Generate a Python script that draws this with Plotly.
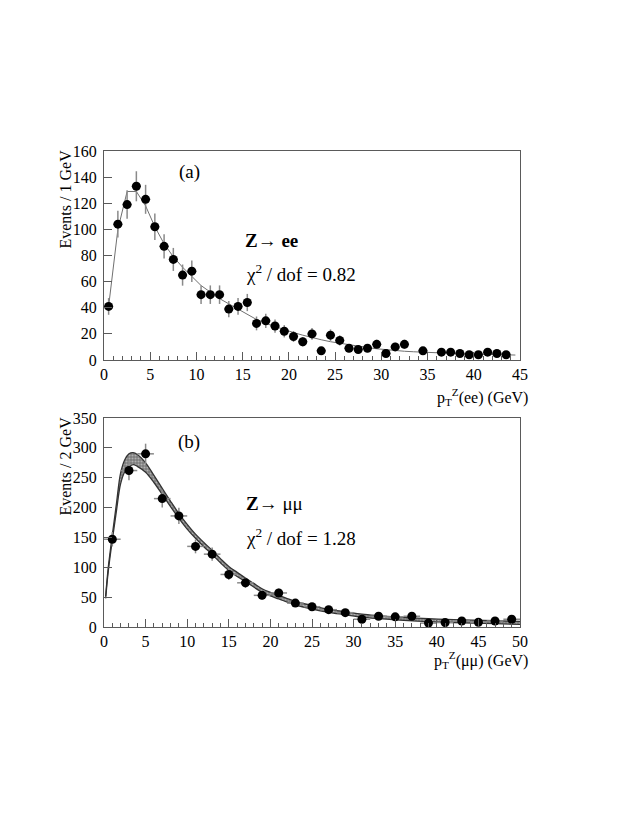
import plotly.graph_objects as go

# ---------------- data: panel (a) Z -> ee ----------------
a_x = [0.5, 1.5, 2.5, 3.5, 4.5, 5.5, 6.5, 7.5, 8.5, 9.5, 10.5, 11.5, 12.5, 13.5, 14.5,
       15.5, 16.5, 17.5, 18.5, 19.5, 20.5, 21.5, 22.5, 23.5, 24.5, 25.5, 26.5, 27.5,
       28.5, 29.5, 30.5, 31.5, 32.5, 34.5, 36.5, 37.5, 38.5, 39.5, 40.5, 41.5, 42.5, 43.5]
a_y = [41, 104, 119, 133, 123, 102, 87, 77, 65, 68, 50, 50, 50, 39, 41,
       44, 28, 30, 26, 22, 18, 14, 20, 7, 19, 15, 9, 8,
       9, 12, 5, 10, 12, 7, 6, 6, 5, 4, 4, 6, 5, 4]
a_err = [6.4, 10.2, 10.9, 11.5, 11.1, 10.1, 9.3, 8.8, 8.1, 8.2, 7.1, 7.1, 7.1, 6.2, 6.4,
         6.6, 5.3, 5.5, 5.1, 4.7, 4.2, 3.7, 4.5, 2.6, 4.4, 3.9, 3.0, 2.8,
         3.0, 3.5, 2.2, 3.2, 3.5, 2.6, 2.4, 2.4, 2.2, 2.0, 2.0, 2.4, 2.2, 2.0]
a_fit_x = [0.5, 1.5, 2.5, 3.5, 4.5, 5.5, 6.5, 7.5, 8.5, 9.5, 10.5, 11.5, 12.5, 13.5, 14.5,
           15.5, 16.5, 17.5, 18.5, 19.5, 20.5, 21.5, 22.5, 23.5, 24.5, 25.5, 26.5, 27.5,
           28.5, 29.5, 30.5, 31.5, 32.5, 33.5, 34.5, 35.5, 36.5, 37.5, 38.5, 39.5, 40.5,
           41.5, 42.5, 43.5, 44.5]
a_fit_y = [41, 100, 129, 129, 118, 102, 89, 79, 71, 64, 57, 52, 47, 43, 39,
           35, 31, 28, 25.5, 23, 21, 19, 17, 15.5, 14, 12.8, 11.5, 10.5,
           9.5, 8.6, 7.8, 7.2, 6.7, 6.3, 5.9, 5.6, 5.3, 5.0, 4.8, 4.6, 4.4,
           4.2, 4.0, 3.9, 3.8]

# ---------------- data: panel (b) Z -> mumu ----------------
b_x = [1, 3, 5, 7, 9, 11, 13, 15, 17, 19, 21, 23, 25, 27, 29, 31, 33, 35, 37, 39, 41, 43, 45, 47, 49]
b_y = [147, 262, 290, 215, 186, 135, 122, 88, 74, 53, 57, 40, 34, 29, 24, 13, 18, 17, 18, 6.5, 7.5, 10, 8, 10, 13]
b_err = [12.1, 16.2, 17.0, 14.7, 13.6, 11.6, 11.0, 9.4, 8.6, 7.3, 7.5, 6.3, 5.8, 5.4, 4.9,
         3.6, 4.2, 4.1, 4.2, 2.5, 2.7, 3.2, 2.8, 3.2, 3.6]
band_x = [0.2, 0.5, 1, 1.5, 2, 2.5, 3, 3.5, 4, 5, 6, 7, 8, 9, 10, 11, 12, 13, 14, 15, 16, 17,
          18, 19, 20, 21, 23, 25, 27, 29, 31, 33, 35, 39, 43, 47, 50]
band_hi = [52, 98, 154, 207, 258, 280, 290, 292, 289, 275, 254, 232, 210.5, 190, 172, 155.5,
           141.5, 128.5, 114.5, 101.5, 91.5, 82, 73, 64, 58, 53, 43, 36, 29.5, 25.5, 21.5,
           19, 17, 14, 12, 10.5, 9.5]
band_lo = [48, 92, 146, 195, 240, 260, 268, 272, 269, 259, 242, 222, 201.5, 182, 164, 148.5,
           134.5, 121.5, 107.5, 94.5, 84.5, 76, 67, 58, 52, 47, 37, 30, 24.5, 20.5, 16.5,
           14, 12, 9, 7, 5.5, 4.5]

# page is 642x830; the html body has an 8px margin, so the figure is 626x814
OFF = 8
W, H = 642 - 2 * OFF, 830 - 2 * OFF
FONT = "Liberation Serif"


def fx(p):
    return (p - OFF) / W


def fy(p):
    return 1 - (p - OFF) / H


fig = go.Figure()

ERR_COL = "#8a8a8a"

# panel (a)
fig.add_trace(go.Scatter(x=a_fit_x, y=a_fit_y, mode="lines", line=dict(color="#707070", width=1),
                         xaxis="x", yaxis="y", showlegend=False, hoverinfo="skip"))
fig.add_trace(go.Scatter(x=a_x, y=a_y, mode="markers",
                         marker=dict(color="black", size=9),
                         error_y=dict(type="data", array=a_err, color=ERR_COL, thickness=1.5, width=0),
                         error_x=dict(type="constant", value=0.5, color=ERR_COL, thickness=1.5, width=0),
                         xaxis="x", yaxis="y", showlegend=False))

# panel (b) band
fig.add_trace(go.Scatter(x=band_x, y=band_lo, mode="lines", line=dict(color="#333333", width=1.3, shape="spline"),
                         xaxis="x2", yaxis="y2", showlegend=False, hoverinfo="skip"))
fig.add_trace(go.Scatter(x=band_x, y=band_hi, mode="lines", line=dict(color="#333333", width=1.3, shape="spline"),
                         fill="tonexty", fillcolor="#7a7a7a",
                         fillpattern=dict(shape=".", bgcolor="#7a7a7a", fgcolor="#e6e6e6", size=3, solidity=0.4),
                         xaxis="x2", yaxis="y2", showlegend=False, hoverinfo="skip"))
fig.add_trace(go.Scatter(x=b_x, y=b_y, mode="markers",
                         marker=dict(color="black", size=9),
                         error_y=dict(type="data", array=b_err, color=ERR_COL, thickness=1.5, width=0),
                         error_x=dict(type="constant", value=1.0, color=ERR_COL, thickness=1.5, width=0),
                         xaxis="x2", yaxis="y2", showlegend=False))

axcol = "#5a5a5a"
common_x = dict(showline=True, mirror=True, linecolor=axcol, linewidth=1, ticks="inside", ticklen=8,
                tickcolor=axcol, showgrid=False, zeroline=False, tick0=0, dtick=5,
                tickfont=dict(family=FONT, size=16, color="black"),
                minor=dict(dtick=1, ticks="inside", ticklen=4, tickcolor=axcol, showgrid=False))
common_y = dict(showline=True, mirror=True, linecolor=axcol, linewidth=1, ticks="inside", ticklen=8,
                tickcolor=axcol, showgrid=False, zeroline=False, ticklabelstandoff=3,
                tickfont=dict(family=FONT, size=16, color="black"))

fig.update_layout(
    width=W, height=H,
    margin=dict(l=0, r=0, t=0, b=0, autoexpand=False),
    font=dict(family=FONT, color="black"),
    paper_bgcolor="white", plot_bgcolor="white",
    xaxis=dict(domain=[fx(104), fx(520)], range=[0, 45], anchor="y", **common_x),
    yaxis=dict(domain=[fy(360), fy(151)], range=[0, 160], dtick=20, anchor="x", **common_y),
    xaxis2=dict(domain=[fx(104), fx(520)], range=[0, 50], anchor="y2", **common_x),
    yaxis2=dict(domain=[fy(627), fy(418)], range=[0, 350], dtick=50, anchor="x2", **common_y),
)

ann = []
tf = dict(family=FONT, color="black")
ann.append(dict(text="(a)", x=fx(189), y=fy(172), font=dict(size=19, **tf)))
ann.append(dict(text="<b>Z</b>→ <b>ee</b>", x=fx(243), y=fy(240), xanchor="left", font=dict(size=19, **tf)))
ann.append(dict(text="χ<sup>2</sup> / dof = 0.82", x=fx(244), y=fy(273), xanchor="left", font=dict(size=19, **tf)))
ann.append(dict(text="Events / 1 GeV", x=fx(65), y=fy(148), textangle=-90, xanchor="center", yanchor="top",
                font=dict(size=16, **tf)))
ann.append(dict(text="p<sub>T</sub><sup>Z</sup>(ee) (GeV)", x=fx(530), y=fy(397), xanchor="right",
                font=dict(size=16, **tf)))

ann.append(dict(text="(b)", x=fx(189), y=fy(442), font=dict(size=19, **tf)))
ann.append(dict(text="<b>Z</b>→ μμ", x=fx(244), y=fy(503), xanchor="left", font=dict(size=19, **tf)))
ann.append(dict(text="χ<sup>2</sup> / dof = 1.28", x=fx(244), y=fy(537), xanchor="left", font=dict(size=19, **tf)))
ann.append(dict(text="Events / 2 GeV", x=fx(65), y=fy(415), textangle=-90, xanchor="center", yanchor="top",
                font=dict(size=16, **tf)))
ann.append(dict(text="p<sub>T</sub><sup>Z</sup>(μμ) (GeV)", x=fx(530), y=fy(660), xanchor="right",
                font=dict(size=16, **tf)))

for a in ann:
    a.setdefault("xanchor", "center")
    a.setdefault("yanchor", "middle")
    a.update(xref="paper", yref="paper", showarrow=False)
fig.update_layout(annotations=ann)

fig.write_html("out.html")
